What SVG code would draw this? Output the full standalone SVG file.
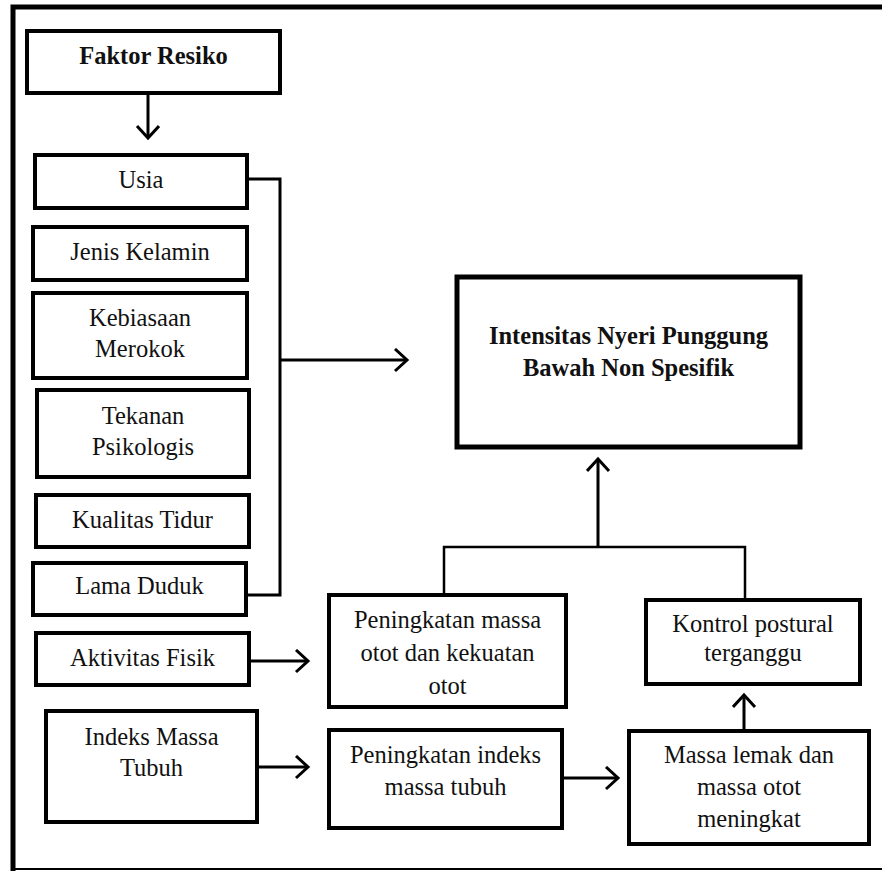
<svg xmlns="http://www.w3.org/2000/svg" width="882" height="871" viewBox="0 0 882 871">
<style>
.box{fill:#fff;stroke:#000;stroke-width:4}
.big{fill:#fff;stroke:#000;stroke-width:5}
.t{font-family:"Liberation Serif","Times New Roman",serif;font-size:24.5px;fill:#111;text-anchor:middle}
.b{font-weight:bold}
.c{fill:none;stroke:#000;stroke-width:3}
.thin{fill:none;stroke:#000;stroke-width:2.5}
</style>
<defs>
<marker id="ah" markerUnits="userSpaceOnUse" markerWidth="20" markerHeight="26" refX="14" refY="12" orient="auto" viewBox="0 0 20 26">
<path d="M2,1 L14,12 L2,23" fill="none" stroke="#000" stroke-width="3"/>
</marker>
</defs>
<rect width="882" height="871" fill="#fff"/>
<g id="frame">
<path d="M13,871 L13,7 L882,7" fill="none" stroke="#000" stroke-width="5"/>
<line x1="13" y1="869" x2="882" y2="869" stroke="#000" stroke-width="2"/>
</g>
<g id="connectors">
<line class="c" x1="148" y1="95" x2="148" y2="138" marker-end="url(#ah)"/>
<polyline class="c" points="247,179 280,179 280,595 246,595"/>
<line class="c" x1="280" y1="360" x2="407" y2="360" marker-end="url(#ah)"/>
<line class="c" x1="249" y1="661" x2="308" y2="661" marker-end="url(#ah)"/>
<line class="c" x1="257" y1="767" x2="308" y2="767" marker-end="url(#ah)"/>
<line class="c" x1="562" y1="778" x2="618" y2="778" marker-end="url(#ah)"/>
<line class="c" x1="744" y1="731" x2="744" y2="695" marker-end="url(#ah)"/>
<polyline class="thin" points="444,595 444,547 745,547 745,600"/>
<line class="c" x1="598" y1="547" x2="598" y2="459" marker-end="url(#ah)"/>
</g>
<g id="faktor"><rect class="box" x="27" y="31" width="253" height="62"/><text class="t b" x="153.5" y="64">Faktor Resiko</text></g>
<g id="usia"><rect class="box" x="35" y="155" width="212" height="53"/><text class="t" x="141" y="188">Usia</text></g>
<g id="jenis"><rect class="box" x="33" y="227" width="214" height="53"/><text class="t" x="140" y="260">Jenis Kelamin</text></g>
<g id="merokok"><rect class="box" x="33" y="293" width="214" height="85"/><text class="t" x="140" y="326">Kebiasaan</text><text class="t" x="140" y="357">Merokok</text></g>
<g id="tekanan"><rect class="box" x="37" y="390" width="212" height="87"/><text class="t" x="143" y="424">Tekanan</text><text class="t" x="143" y="455">Psikologis</text></g>
<g id="tidur"><rect class="box" x="36" y="495" width="213" height="52"/><text class="t" x="142.5" y="528">Kualitas Tidur</text></g>
<g id="duduk"><rect class="box" x="33" y="563" width="213" height="52"/><text class="t" x="139.5" y="594">Lama Duduk</text></g>
<g id="aktivitas"><rect class="box" x="36" y="633" width="213" height="52"/><text class="t" x="142.5" y="666">Aktivitas Fisik</text></g>
<g id="imt"><rect class="box" x="46" y="711" width="211" height="111"/><text class="t" x="151.5" y="745">Indeks Massa</text><text class="t" x="151.5" y="776">Tubuh</text></g>
<g id="intensitas"><rect class="big" x="457" y="277" width="343" height="170"/><text class="t b" x="628.5" y="344">Intensitas Nyeri Punggung</text><text class="t b" x="628.5" y="376">Bawah Non Spesifik</text></g>
<g id="otot"><rect class="box" x="329" y="595" width="237" height="112"/><text class="t" x="447.5" y="628">Peningkatan massa</text><text class="t" x="447.5" y="661">otot dan kekuatan</text><text class="t" x="447.5" y="694">otot</text></g>
<g id="pimt"><rect class="box" x="329" y="730" width="233" height="98"/><text class="t" x="445.5" y="763">Peningkatan indeks</text><text class="t" x="445.5" y="795">massa tubuh</text></g>
<g id="kontrol"><rect class="box" x="646" y="600" width="214" height="84"/><text class="t" x="753" y="632">Kontrol postural</text><text class="t" x="753" y="661">terganggu</text></g>
<g id="lemak"><rect class="box" x="629" y="731" width="240" height="113"/><text class="t" x="749" y="763">Massa lemak dan</text><text class="t" x="749" y="795">massa otot</text><text class="t" x="749" y="827">meningkat</text></g>
</svg>
